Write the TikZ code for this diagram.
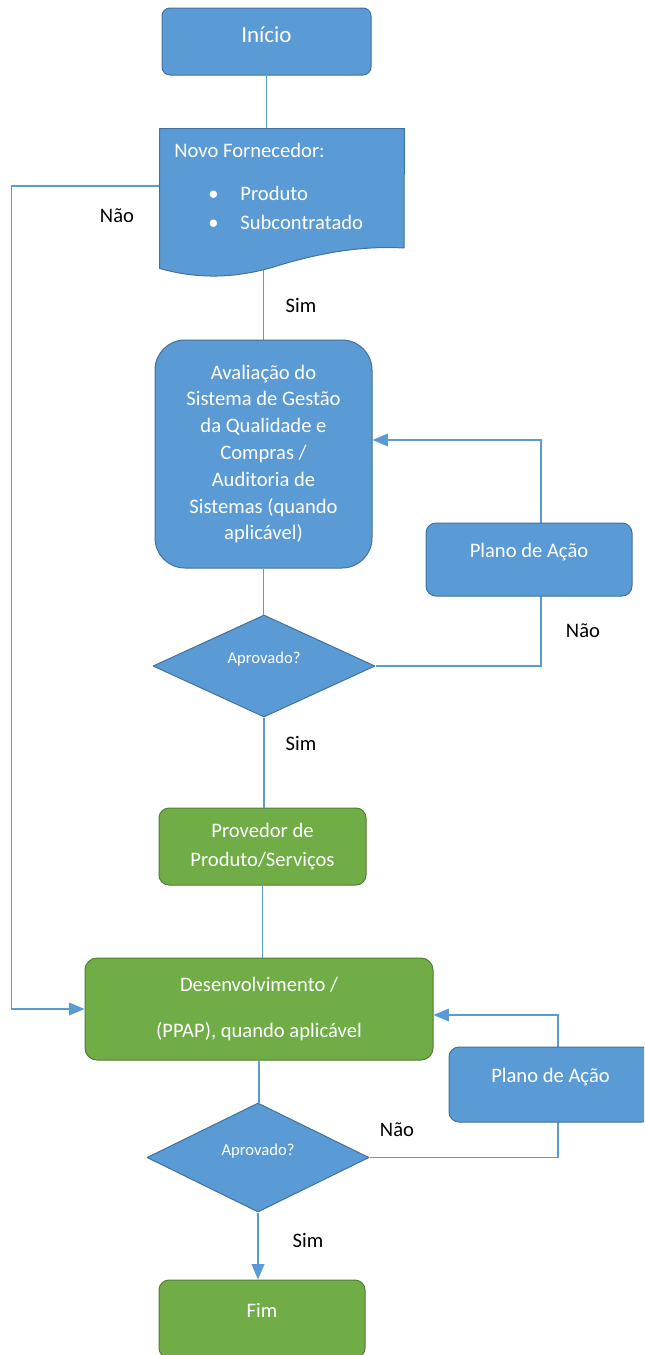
\documentclass[tikz,border=0pt]{standalone}
\usepackage{fontspec}
\setmainfont{Carlito}
\usepackage{tikz}
\usetikzlibrary{calc}
\usetikzlibrary{arrows}
\usetikzlibrary{shapes.geometric}
\usetikzlibrary{backgrounds}
\definecolor{azulcx}{rgb}{0.357,0.608,0.835}
\definecolor{azulbd}{rgb}{0.255,0.443,0.612}
\definecolor{verdecx}{rgb}{0.439,0.678,0.278}
\definecolor{verdebd}{rgb}{0.314,0.494,0.196}
\tikzstyle{every node}=[font=\fontsize{10.3}{13.4}\selectfont]
\tikzstyle{caixa}=[draw=azulbd,fill=azulcx,text=white,line width=0.5pt,align=center,inner sep=0pt]
\tikzstyle{caixaverde}=[caixa,draw=verdebd,fill=verdecx]
\tikzstyle{decisao}=[caixa,diamond,aspect=2,font=\fontsize{8.3}{10}\selectfont,text depth=8pt]
\tikzstyle{liga}=[line width=0.75pt,color=azulcx]
\tikzstyle{rotulo}=[text=black,inner sep=0pt]

\begin{document}
\begin{tikzpicture}[line cap=round,line join=round,>=triangle 45,x=0.5pt,y=-0.5pt]
            \useasboundingbox (0,0) rectangle (644,1355);
            \clip(0,0) rectangle (644,1355);
            \node[caixa,rounded corners=4pt,minimum width=104.5pt,minimum height=33.5pt,font=\fontsize{11.5}{14}\selectfont,text depth=6.5pt] (inicio) at (266.5,41.5) {Início};
            % documento com base ondulada
            \node[inner sep=0pt,minimum width=122pt,minimum height=69.5pt] (novo) at (282,198.5) {};
            \filldraw[fill=azulcx,draw=azulbd,line width=0.5pt] (novo.north west) -- (novo.north east) -- (404,248) .. controls (370,246) and (330,250) .. (280,265) .. controls (240,278) and (200,280) .. (novo.south west) -- cycle;
            \node[anchor=west,text=white,inner sep=0pt] (titulo) at (174,150) {Novo Fornecedor:};
            \node[anchor=west,text=white,inner sep=0pt] (item1) at (208,193) {\makebox[16pt][l]{•}Produto};
            \node[anchor=west,text=white,inner sep=0pt] (item2) at (208,222) {\makebox[16pt][l]{•}Subcontratado};
            \node[caixa,rounded corners=15pt,minimum width=108.5pt,minimum height=114pt] (avaliacao) at (263.5,454) {Avaliação do\\Sistema de Gestão\\da Qualidade e\\Compras /\\Auditoria de\\Sistemas (quando\\aplicável)};
            \node[decisao,minimum width=111pt,minimum height=51pt] (aprov1) at (264,666) {Aprovado?};
            \node[caixa,rounded corners=5pt,minimum width=103pt,minimum height=36.5pt,text depth=9pt] (plano1) at (529,559.5) {Plano de Ação};
            \node[caixaverde,rounded corners=5pt,minimum width=103.5pt,minimum height=38.5pt] (provedor) at (262.5,846.5) {Provedor de\\[1.1pt]Produto/Serviços};
            \node[caixaverde,rounded corners=6pt,minimum width=174pt,minimum height=51pt] (desenv) at (259,1009) {Desenvolvimento /\\[10pt](PPAP), quando aplicável};
            \node[decisao,minimum width=111pt,minimum height=54.5pt] (aprov2) at (258,1157.5) {Aprovado?};
            \node[caixa,rounded corners=5pt,minimum width=101.5pt,minimum height=37.5pt,text depth=9pt] (plano2) at (550.5,1084.5) {Plano de Ação};
            \node[caixaverde,rounded corners=5pt,minimum width=103pt,minimum height=39pt,text depth=9pt] (fim) at (262,1319) {Fim};
            \node[rotulo] (nao1) at (117,216) {Não};
            \node[rotulo] (sim1) at (301,305) {Sim};
            \node[rotulo] (nao2) at (583,631) {Não};
            \node[rotulo] (sim2) at (301,743) {Sim};
            \node[rotulo] (nao3) at (397,1130) {Não};
            \node[rotulo] (sim3) at (308,1240) {Sim};
            \coordinate (volta1) at (541,440);
            \coordinate (volta2) at (558,1015);
            \begin{scope}[on background layer]
            \draw[liga] (inicio.south) -- (inicio.south |- novo.north);
            \draw[liga] (avaliacao.north |- novo.south) -- (avaliacao.north);
            \draw[liga,->] ([yshift=6.25pt]novo.west) -- ++(-148,0) |- (desenv.west);
            \draw[liga] (avaliacao.south) -- (avaliacao.south |- aprov1.north);
            \draw[liga,->] (aprov1.east) -| (volta1) -- (avaliacao.east |- volta1);
            \draw[liga] (aprov1.south) -- (aprov1.south |- provedor.north);
            \draw[liga] (provedor.south) -- (provedor.south |- desenv.north);
            \draw[liga] (desenv.south) -- (desenv.south |- aprov2.north);
            \draw[liga,->] (aprov2.east) -| (volta2) -- (desenv.east |- volta2);
            \draw[liga,->] (aprov2.south) -- (aprov2.south |- fim.north);
            \end{scope}
\end{tikzpicture}
\end{document}
